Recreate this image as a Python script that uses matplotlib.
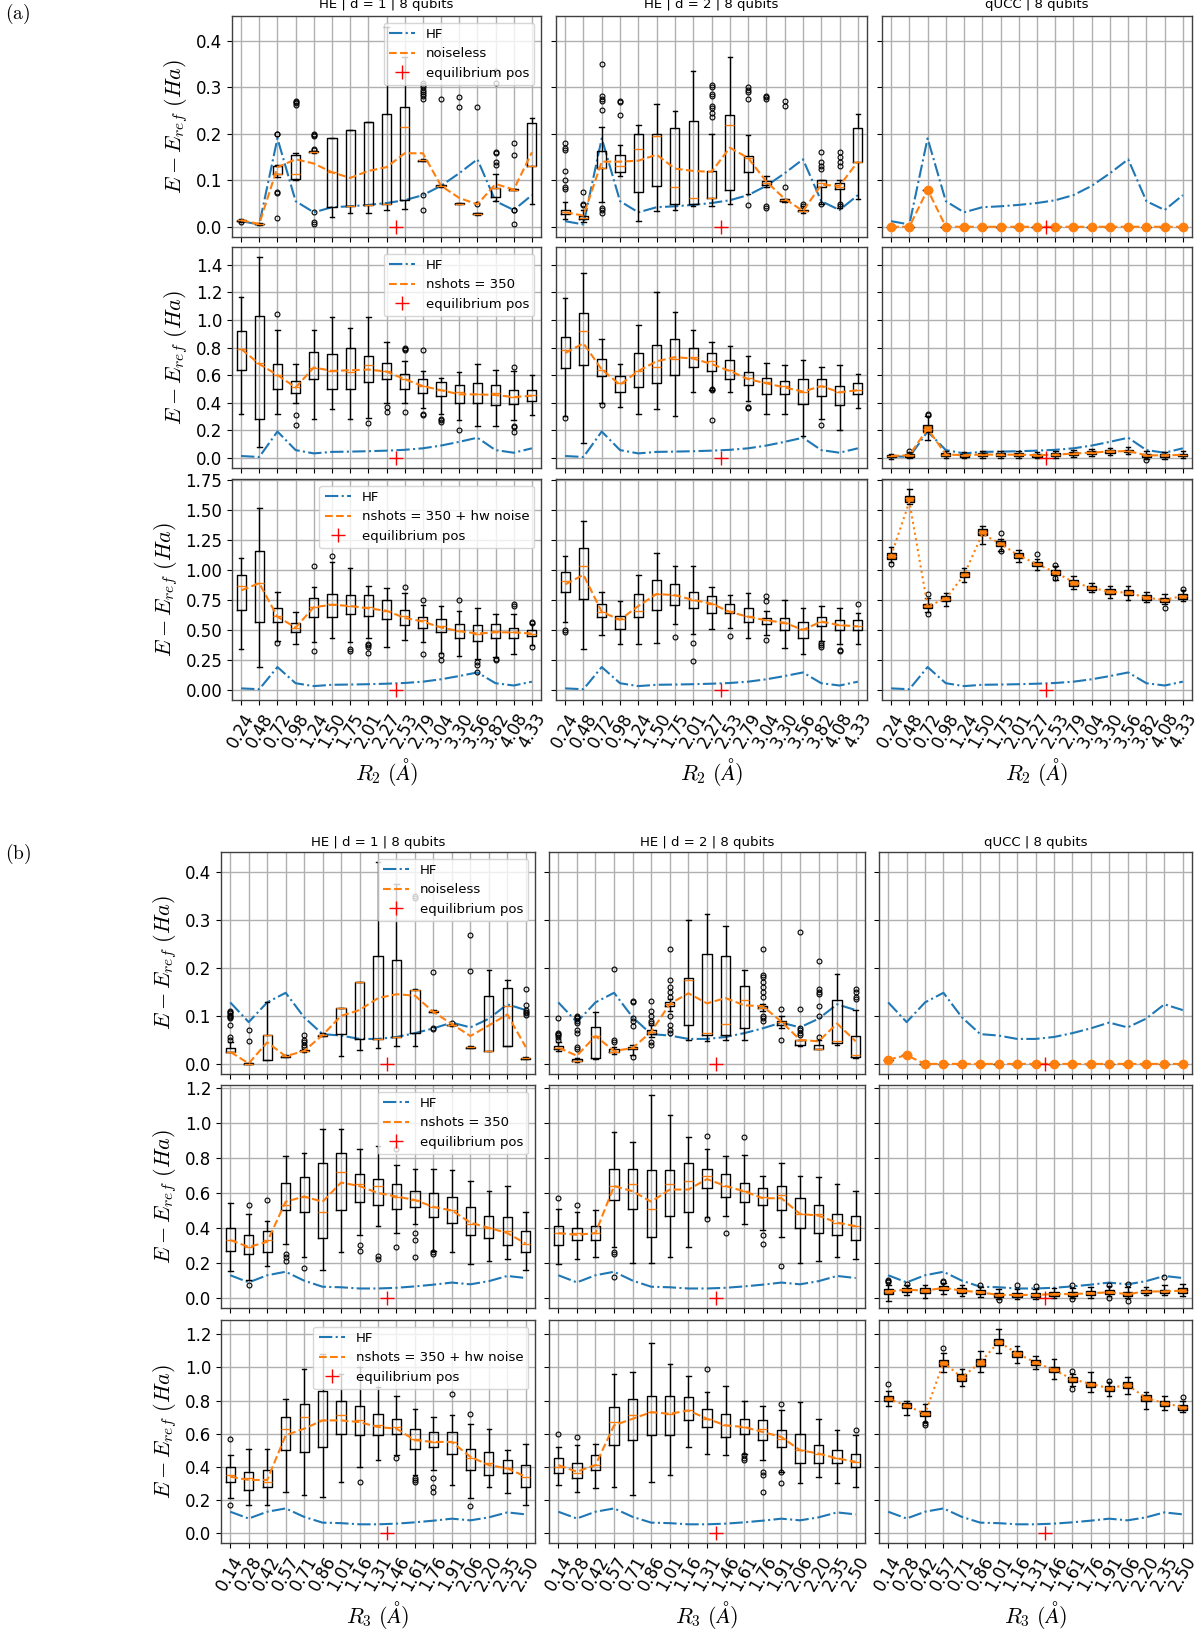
import numpy as np
import matplotlib
matplotlib.use("Agg")
import matplotlib.pyplot as plt
from matplotlib.lines import Line2D

plt.rcParams['mathtext.fontset'] = 'cm'
plt.rcParams['font.family'] = ['DejaVu Sans']

# ---------------------------------------------------------------- axes values
R2_labels = ['0.24', '0.48', '0.72', '0.98', '1.24', '1.50', '1.75', '2.01', '2.27',
             '2.53', '2.79', '3.04', '3.30', '3.56', '3.82', '4.08', '4.33']
R3_labels = ['0.14', '0.28', '0.42', '0.57', '0.71', '0.86', '1.01', '1.16', '1.31',
             '1.46', '1.61', '1.76', '1.91', '2.06', '2.20', '2.35', '2.50']
R2_eq = 2.40
R3_eq = 1.385

# Hartree-Fock reference curves
HF_a = [0.012, 0.005, 0.190, 0.055, 0.031, 0.042, 0.044, 0.047, 0.051, 0.057,
        0.068, 0.088, 0.115, 0.145, 0.055, 0.036, 0.068]
HF_b = [0.128, 0.087, 0.128, 0.148, 0.097, 0.062, 0.059, 0.052, 0.052, 0.056,
        0.064, 0.074, 0.086, 0.076, 0.094, 0.124, 0.112]

# ---------------------------------------------------------------- (a) HE d=1, noiseless
a11_q1 = [0.012, 0.005, 0.113, 0.102, 0.160, 0.043, 0.044, 0.046, 0.050, 0.057, 0.142, 0.087, 0.049, 0.027, 0.063, 0.079, 0.130]
a11_med = [0.014, 0.006, 0.113, 0.114, 0.161, 0.117, 0.044, 0.046, 0.050, 0.215, 0.143, 0.088, 0.050, 0.028, 0.083, 0.080, 0.131]
a11_q3 = [0.015, 0.007, 0.131, 0.155, 0.162, 0.190, 0.208, 0.225, 0.243, 0.258, 0.144, 0.089, 0.051, 0.029, 0.083, 0.081, 0.222]
a11_lo = [0.010, 0.004, 0.108, 0.100, 0.159, 0.020, 0.030, 0.029, 0.035, 0.038, 0.141, 0.086, 0.048, 0.026, 0.055, 0.078, 0.048]
a11_hi = [0.016, 0.008, 0.133, 0.158, 0.163, 0.190, 0.208, 0.225, 0.430, 0.365, 0.145, 0.090, 0.052, 0.030, 0.113, 0.082, 0.233]
a11_mean = [0.014, 0.006, 0.128, 0.145, 0.136, 0.117, 0.105, 0.120, 0.128, 0.158, 0.158, 0.088, 0.062, 0.048, 0.092, 0.080, 0.160]
a11_out = [[0.010], [], [0.2, 0.199, 0.075, 0.072, 0.018], [0.27, 0.268, 0.265, 0.262],
           [0.2, 0.198, 0.196, 0.167, 0.165, 0.031, 0.01, 0.005], [], [], [], [], [],
           [0.31, 0.305, 0.3, 0.295, 0.29, 0.285, 0.28, 0.275, 0.068, 0.036], [0.274],
           [0.278, 0.257], [0.258, 0.05], [0.16, 0.158, 0.14, 0.132, 0.335, 0.31],
           [0.18, 0.155, 0.037, 0.035, 0.007], []]

# (a) HE d=2, noiseless
a12_q1 = [0.027, 0.017, 0.126, 0.117, 0.075, 0.088, 0.050, 0.050, 0.062, 0.078, 0.117, 0.090, 0.056, 0.033, 0.085, 0.081, 0.140]
a12_med = [0.031, 0.019, 0.126, 0.130, 0.167, 0.195, 0.086, 0.062, 0.062, 0.218, 0.148, 0.095, 0.057, 0.034, 0.093, 0.085, 0.140]
a12_q3 = [0.037, 0.024, 0.163, 0.155, 0.200, 0.200, 0.212, 0.228, 0.120, 0.240, 0.153, 0.098, 0.059, 0.036, 0.100, 0.094, 0.212]
a12_lo = [0.016, 0.010, 0.054, 0.110, 0.012, 0.034, 0.035, 0.045, 0.045, 0.050, 0.070, 0.085, 0.054, 0.030, 0.050, 0.040, 0.060]
a12_hi = [0.054, 0.036, 0.215, 0.175, 0.218, 0.263, 0.248, 0.335, 0.200, 0.365, 0.197, 0.110, 0.060, 0.045, 0.100, 0.100, 0.242]
a12_mean = [0.031, 0.024, 0.140, 0.140, 0.142, 0.155, 0.125, 0.120, 0.118, 0.170, 0.148, 0.097, 0.060, 0.034, 0.090, 0.088, 0.140]
a12_out = [[0.18, 0.17, 0.165, 0.12, 0.1, 0.085, 0.082], [0.075, 0.048, 0.046],
           [0.35, 0.28, 0.275, 0.27, 0.25, 0.04, 0.035, 0.03], [0.27, 0.268, 0.24], [], [], [], [],
           [0.305, 0.3, 0.285, 0.28, 0.26, 0.255, 0.245, 0.235], [],
           [0.3, 0.295, 0.29, 0.275, 0.046], [0.28, 0.278, 0.275, 0.045, 0.04], [0.27, 0.26, 0.085],
           [0.048, 0.044], [0.16, 0.14, 0.13, 0.125, 0.05], [0.16, 0.15, 0.14, 0.13, 0.05, 0.045], []]

# (a) qUCC, noiseless
a13_val = [0.0, 0.0, 0.080, 0.0, 0.0, 0.0, 0.0, 0.0, 0.0, 0.0, 0.0, 0.0, 0.0, 0.0, 0.0, 0.0, 0.0]

# (a) HE d=1, nshots = 350
a21_q1 = [0.64, 0.28, 0.50, 0.47, 0.57, 0.50, 0.50, 0.55, 0.57, 0.50, 0.47, 0.45, 0.40, 0.40, 0.38, 0.39, 0.41]
a21_med = [0.79, 0.69, 0.60, 0.51, 0.65, 0.63, 0.62, 0.67, 0.63, 0.57, 0.52, 0.49, 0.48, 0.46, 0.47, 0.44, 0.455]
a21_q3 = [0.92, 1.03, 0.68, 0.56, 0.77, 0.75, 0.80, 0.74, 0.69, 0.61, 0.57, 0.55, 0.53, 0.54, 0.53, 0.49, 0.49]
a21_lo = [0.32, 0.08, 0.32, 0.40, 0.28, 0.35, 0.28, 0.29, 0.40, 0.40, 0.36, 0.32, 0.27, 0.23, 0.23, 0.27, 0.31]
a21_hi = [1.17, 1.46, 0.93, 0.68, 0.93, 1.02, 0.94, 1.02, 0.84, 0.70, 0.63, 0.58, 0.62, 0.68, 0.64, 0.63, 0.60]
a21_mean = [0.79, 0.68, 0.60, 0.51, 0.655, 0.63, 0.635, 0.64, 0.625, 0.57, 0.52, 0.49, 0.46, 0.46, 0.455, 0.44, 0.45]
a21_out = [[], [], [1.04], [0.31, 0.24], [], [], [], [0.25], [0.37, 0.33], [0.8, 0.79, 0.78, 0.33],
           [0.78, 0.32, 0.31], [0.28, 0.27, 0.26], [0.2], [], [], [0.66, 0.23, 0.22, 0.19], []]

# (a) HE d=2, nshots = 350
a22_q1 = [0.65, 0.67, 0.59, 0.48, 0.51, 0.54, 0.60, 0.66, 0.63, 0.57, 0.53, 0.46, 0.46, 0.39, 0.45, 0.38, 0.46]
a22_med = [0.78, 0.92, 0.64, 0.54, 0.63, 0.66, 0.72, 0.73, 0.70, 0.64, 0.58, 0.55, 0.52, 0.48, 0.52, 0.48, 0.49]
a22_q3 = [0.88, 1.05, 0.72, 0.59, 0.76, 0.82, 0.86, 0.80, 0.76, 0.71, 0.62, 0.58, 0.56, 0.57, 0.57, 0.52, 0.54]
a22_lo = [0.30, 0.11, 0.40, 0.37, 0.32, 0.35, 0.30, 0.48, 0.49, 0.48, 0.41, 0.32, 0.32, 0.16, 0.28, 0.20, 0.36]
a22_hi = [1.16, 1.34, 0.86, 0.68, 0.96, 1.20, 1.06, 0.93, 0.84, 0.81, 0.74, 0.69, 0.67, 0.71, 0.66, 0.67, 0.61]
a22_mean = [0.76, 0.83, 0.64, 0.53, 0.63, 0.70, 0.73, 0.72, 0.68, 0.63, 0.57, 0.54, 0.51, 0.48, 0.52, 0.475, 0.49]
a22_out = [[0.29], [], [0.38], [], [], [], [], [], [0.50, 0.49, 0.27], [], [0.37, 0.36], [], [], [],
           [0.24], [], []]

# (a) qUCC, nshots = 350
a23_q1 = [0.002, 0.007, 0.190, 0.012, 0.008, 0.012, 0.012, 0.012, 0.008, 0.012, 0.020, 0.027, 0.036, 0.039, 0.007, 0.007, 0.010]
a23_med = [0.012, 0.017, 0.210, 0.022, 0.017, 0.022, 0.022, 0.022, 0.017, 0.022, 0.030, 0.037, 0.046, 0.049, 0.017, 0.017, 0.020]
a23_q3 = [0.020, 0.026, 0.237, 0.032, 0.026, 0.032, 0.032, 0.032, 0.026, 0.032, 0.040, 0.047, 0.056, 0.059, 0.026, 0.026, 0.029]
a23_lo = [-0.010, -0.005, 0.130, 0.000, -0.005, 0.000, 0.000, 0.000, -0.005, 0.000, 0.005, 0.012, 0.022, 0.025, -0.010, -0.010, -0.005]
a23_hi = [0.030, 0.040, 0.300, 0.045, 0.040, 0.045, 0.045, 0.045, 0.040, 0.045, 0.055, 0.062, 0.072, 0.075, 0.045, 0.040, 0.050]
a23_mean = [0.012, 0.018, 0.210, 0.023, 0.018, 0.022, 0.022, 0.022, 0.018, 0.022, 0.030, 0.037, 0.045, 0.048, 0.017, 0.017, 0.020]
a23_out = [[], [0.05], [0.32, 0.31], [], [], [], [], [], [], [], [], [], [], [], [-0.02], [], []]

# (a) HE d=1, nshots = 350 + hw noise
a31_q1 = [0.67, 0.57, 0.57, 0.48, 0.61, 0.61, 0.63, 0.62, 0.59, 0.54, 0.52, 0.48, 0.43, 0.41, 0.43, 0.43, 0.45]
a31_med = [0.87, 0.89, 0.62, 0.52, 0.69, 0.72, 0.70, 0.69, 0.66, 0.62, 0.58, 0.53, 0.49, 0.47, 0.49, 0.48, 0.47]
a31_q3 = [0.96, 1.16, 0.68, 0.56, 0.77, 0.80, 0.79, 0.79, 0.75, 0.67, 0.61, 0.59, 0.55, 0.54, 0.55, 0.52, 0.50]
a31_lo = [0.34, 0.19, 0.41, 0.38, 0.40, 0.43, 0.40, 0.43, 0.36, 0.42, 0.40, 0.31, 0.28, 0.26, 0.27, 0.30, 0.37]
a31_hi = [1.10, 1.52, 0.82, 0.65, 0.86, 1.07, 1.02, 0.87, 0.85, 0.81, 0.71, 0.70, 0.66, 0.68, 0.63, 0.63, 0.55]
a31_mean = [0.83, 0.89, 0.61, 0.52, 0.69, 0.71, 0.70, 0.68, 0.66, 0.60, 0.57, 0.52, 0.49, 0.47, 0.48, 0.48, 0.47]
a31_out = [[], [], [0.39], [], [1.03, 0.32], [1.12], [0.34, 0.32], [0.38, 0.37, 0.36, 0.31], [],
           [0.86], [0.75, 0.30], [0.29, 0.25], [0.75], [0.23, 0.21, 0.15], [0.26, 0.25],
           [0.72, 0.70], [0.57, 0.56, 0.36]]

# (a) HE d=2, nshots = 350 + hw noise
a32_q1 = [0.82, 0.76, 0.61, 0.51, 0.61, 0.67, 0.71, 0.68, 0.64, 0.64, 0.57, 0.55, 0.50, 0.43, 0.53, 0.50, 0.50]
a32_med = [0.91, 1.03, 0.65, 0.59, 0.66, 0.80, 0.79, 0.75, 0.72, 0.66, 0.62, 0.58, 0.56, 0.51, 0.57, 0.54, 0.53]
a32_q3 = [0.98, 1.18, 0.72, 0.62, 0.80, 0.92, 0.88, 0.82, 0.78, 0.72, 0.68, 0.60, 0.60, 0.57, 0.61, 0.58, 0.58]
a32_lo = [0.57, 0.34, 0.46, 0.38, 0.38, 0.39, 0.55, 0.47, 0.51, 0.52, 0.43, 0.46, 0.35, 0.30, 0.41, 0.38, 0.38]
a32_hi = [1.12, 1.41, 0.82, 0.74, 0.96, 1.14, 1.03, 1.03, 0.86, 0.79, 0.81, 0.66, 0.75, 0.68, 0.70, 0.68, 0.64]
a32_mean = [0.88, 0.96, 0.65, 0.585, 0.70, 0.80, 0.79, 0.75, 0.72, 0.65, 0.61, 0.58, 0.56, 0.50, 0.57, 0.54, 0.53]
a32_out = [[0.50, 0.48], [], [], [], [], [], [0.44], [0.39, 0.24], [], [0.45], [], [0.78, 0.74, 0.42],
           [], [], [0.39, 0.37, 0.36], [0.33, 0.32], [0.72]]

# (a) qUCC, nshots = 350 + hw noise
a33_q1 = [1.09, 1.57, 0.68, 0.74, 0.94, 1.29, 1.20, 1.10, 1.03, 0.96, 0.87, 0.83, 0.80, 0.79, 0.75, 0.73, 0.76]
a33_med = [1.12, 1.60, 0.70, 0.76, 0.96, 1.32, 1.22, 1.12, 1.05, 0.98, 0.90, 0.85, 0.82, 0.81, 0.77, 0.75, 0.785]
a33_q3 = [1.14, 1.62, 0.72, 0.78, 0.98, 1.34, 1.24, 1.14, 1.07, 1.00, 0.92, 0.87, 0.84, 0.83, 0.79, 0.77, 0.80]
a33_lo = [1.07, 1.55, 0.65, 0.70, 0.90, 1.22, 1.16, 1.07, 1.00, 0.92, 0.84, 0.82, 0.77, 0.75, 0.73, 0.72, 0.74]
a33_hi = [1.19, 1.68, 0.77, 0.81, 1.02, 1.37, 1.26, 1.17, 1.09, 1.03, 0.95, 0.89, 0.87, 0.87, 0.82, 0.80, 0.83]
a33_mean = [1.12, 1.57, 0.70, 0.76, 0.96, 1.30, 1.22, 1.12, 1.05, 0.98, 0.90, 0.85, 0.82, 0.81, 0.77, 0.75, 0.785]
a33_out = [[1.05], [], [0.80, 0.63], [], [], [], [1.31, 1.16], [], [1.13], [1.04, 0.93], [], [], [],
           [], [], [0.68], [0.84]]

# ---------------------------------------------------------------- (b) HE d=1, noiseless
b11_q1 = [0.025, 0.000, 0.009, 0.015, 0.026, 0.059, 0.062, 0.052, 0.052, 0.056, 0.064, 0.109, 0.080, 0.034, 0.026, 0.038, 0.011]
b11_med = [0.025, 0.000, 0.060, 0.016, 0.027, 0.060, 0.117, 0.171, 0.052, 0.056, 0.153, 0.110, 0.081, 0.035, 0.026, 0.121, 0.012]
b11_q3 = [0.033, 0.001, 0.060, 0.017, 0.028, 0.061, 0.117, 0.171, 0.225, 0.217, 0.154, 0.111, 0.082, 0.036, 0.141, 0.158, 0.013]
b11_lo = [0.024, 0.000, 0.009, 0.014, 0.025, 0.058, 0.017, 0.028, 0.033, 0.038, 0.037, 0.108, 0.079, 0.033, 0.026, 0.038, 0.010]
b11_hi = [0.045, 0.002, 0.128, 0.019, 0.030, 0.064, 0.117, 0.171, 0.420, 0.375, 0.156, 0.112, 0.084, 0.037, 0.196, 0.175, 0.014]
b11_mean = [0.025, 0.001, 0.045, 0.016, 0.027, 0.060, 0.100, 0.112, 0.137, 0.145, 0.142, 0.108, 0.083, 0.058, 0.080, 0.103, 0.035]
b11_out = [[0.11, 0.108, 0.105, 0.102, 0.1, 0.098, 0.095, 0.08, 0.055, 0.05], [0.07, 0.047], [], [],
           [0.06, 0.05, 0.045, 0.04, 0.035], [], [], [], [], [], [0.35, 0.345], [0.192, 0.075, 0.072],
           [0.085], [0.268, 0.194], [], [], [0.155, 0.122, 0.112, 0.108, 0.105, 0.102]]

# (b) HE d=2, noiseless
b12_q1 = [0.030, 0.006, 0.012, 0.024, 0.030, 0.063, 0.120, 0.081, 0.060, 0.061, 0.074, 0.116, 0.082, 0.039, 0.031, 0.044, 0.014]
b12_med = [0.034, 0.007, 0.058, 0.025, 0.033, 0.067, 0.124, 0.175, 0.064, 0.084, 0.134, 0.117, 0.087, 0.049, 0.031, 0.047, 0.018]
b12_q3 = [0.038, 0.010, 0.076, 0.030, 0.035, 0.070, 0.128, 0.178, 0.229, 0.224, 0.162, 0.120, 0.090, 0.049, 0.040, 0.133, 0.059]
b12_lo = [0.027, 0.005, 0.010, 0.020, 0.018, 0.055, 0.110, 0.050, 0.047, 0.050, 0.049, 0.110, 0.075, 0.037, 0.030, 0.040, 0.013]
b12_hi = [0.045, 0.012, 0.108, 0.035, 0.040, 0.080, 0.135, 0.300, 0.313, 0.287, 0.196, 0.125, 0.100, 0.050, 0.050, 0.187, 0.112]
b12_mean = [0.034, 0.017, 0.058, 0.027, 0.033, 0.067, 0.125, 0.147, 0.126, 0.137, 0.122, 0.120, 0.088, 0.050, 0.047, 0.084, 0.047]
b12_out = [[0.095, 0.065, 0.063, 0.06, 0.055, 0.05], [0.1, 0.098, 0.095, 0.09, 0.085, 0.07, 0.065, 0.035, 0.03],
           [], [0.198, 0.05, 0.045], [0.13, 0.128, 0.095, 0.09, 0.078, 0.015],
           [0.13, 0.11, 0.1, 0.09, 0.085, 0.045, 0.04], [0.24, 0.175, 0.16, 0.15, 0.14, 0.1, 0.08, 0.07, 0.065],
           [], [], [], [], [0.24, 0.185, 0.18, 0.17, 0.16, 0.15, 0.14, 0.1, 0.095, 0.09], [0.115, 0.05],
           [0.275, 0.115, 0.075, 0.07, 0.065, 0.06], [0.215, 0.155, 0.15, 0.145, 0.12, 0.1, 0.055], [],
           [0.155, 0.15, 0.14, 0.135]]

# (b) qUCC, noiseless
b13_val = [0.009, 0.018, 0.0, 0.0, 0.0, 0.0, 0.0, 0.0, 0.0, 0.0, 0.0, 0.0, 0.0, 0.0, 0.0, 0.0, 0.0]

# (b) HE d=1, nshots = 350
b21_q1 = [0.27, 0.25, 0.26, 0.50, 0.49, 0.34, 0.50, 0.55, 0.53, 0.51, 0.52, 0.46, 0.43, 0.36, 0.34, 0.30, 0.26]
b21_med = [0.33, 0.29, 0.33, 0.53, 0.58, 0.49, 0.72, 0.65, 0.64, 0.58, 0.56, 0.52, 0.50, 0.42, 0.40, 0.38, 0.31]
b21_q3 = [0.40, 0.36, 0.38, 0.66, 0.69, 0.77, 0.83, 0.71, 0.68, 0.65, 0.61, 0.60, 0.58, 0.52, 0.47, 0.46, 0.38]
b21_lo = [0.15, 0.10, 0.18, 0.31, 0.23, 0.16, 0.26, 0.36, 0.41, 0.37, 0.42, 0.27, 0.26, 0.19, 0.21, 0.22, 0.16]
b21_hi = [0.54, 0.48, 0.44, 0.81, 0.83, 0.97, 0.97, 0.85, 0.87, 0.76, 0.74, 0.74, 0.73, 0.67, 0.61, 0.64, 0.49]
b21_mean = [0.33, 0.29, 0.32, 0.55, 0.58, 0.55, 0.66, 0.64, 0.60, 0.58, 0.56, 0.52, 0.50, 0.43, 0.40, 0.37, 0.31]
b21_out = [[], [0.53, 0.07], [0.56], [0.25, 0.23, 0.21], [0.17], [], [], [0.30, 0.27], [0.24, 0.22],
           [0.29, 0.85], [0.37, 0.33, 0.23], [0.26, 0.25], [], [], [], [], []]

# (b) HE d=2, nshots = 350
b22_q1 = [0.30, 0.33, 0.33, 0.56, 0.51, 0.35, 0.47, 0.49, 0.63, 0.58, 0.55, 0.53, 0.50, 0.40, 0.37, 0.36, 0.33]
b22_med = [0.37, 0.37, 0.37, 0.64, 0.65, 0.51, 0.65, 0.67, 0.70, 0.64, 0.61, 0.58, 0.59, 0.48, 0.48, 0.43, 0.41]
b22_q3 = [0.41, 0.40, 0.41, 0.74, 0.74, 0.73, 0.73, 0.77, 0.74, 0.71, 0.66, 0.63, 0.64, 0.57, 0.53, 0.48, 0.47]
b22_lo = [0.19, 0.22, 0.23, 0.29, 0.20, 0.20, 0.23, 0.29, 0.46, 0.47, 0.42, 0.39, 0.35, 0.20, 0.21, 0.23, 0.22]
b22_hi = [0.51, 0.49, 0.50, 0.95, 0.89, 1.16, 1.05, 0.92, 0.85, 0.81, 0.82, 0.70, 0.77, 0.70, 0.69, 0.65, 0.61]
b22_mean = [0.37, 0.36, 0.37, 0.64, 0.61, 0.55, 0.62, 0.62, 0.68, 0.64, 0.61, 0.57, 0.57, 0.48, 0.47, 0.43, 0.41]
b22_out = [[0.57], [0.53], [], [0.26, 0.25, 0.12], [], [], [], [], [0.45, 0.93], [0.37], [0.92],
           [0.36, 0.31], [0.18], [], [], [], []]

# (b) qUCC, nshots = 350
b23_q1 = [0.022, 0.033, 0.028, 0.043, 0.028, 0.018, 0.004, 0.004, 0.004, 0.009, 0.009, 0.014, 0.019, 0.009, 0.024, 0.024, 0.028]
b23_med = [0.035, 0.045, 0.040, 0.055, 0.040, 0.030, 0.015, 0.015, 0.015, 0.020, 0.020, 0.025, 0.030, 0.020, 0.035, 0.035, 0.040]
b23_q3 = [0.048, 0.057, 0.052, 0.067, 0.052, 0.042, 0.026, 0.026, 0.026, 0.031, 0.031, 0.036, 0.041, 0.031, 0.046, 0.046, 0.052]
b23_lo = [-0.020, 0.015, 0.000, 0.020, 0.010, 0.005, -0.010, -0.010, -0.010, -0.005, -0.005, 0.000, 0.010, -0.005, 0.015, 0.015, 0.010]
b23_hi = [0.070, 0.070, 0.070, 0.085, 0.070, 0.060, 0.050, 0.050, 0.050, 0.055, 0.055, 0.060, 0.065, 0.060, 0.060, 0.070, 0.080]
b23_mean = [0.035, 0.045, 0.040, 0.055, 0.040, 0.030, 0.015, 0.015, 0.015, 0.020, 0.020, 0.025, 0.030, 0.020, 0.035, 0.035, 0.040]
b23_out = [[0.1, 0.095, 0.09], [0.08], [], [0.095, 0.09], [], [0.07], [-0.015], [0.07], [0.065], [],
           [0.07, -0.01], [], [0.07, 0.0], [0.075, -0.02], [], [0.12], []]

# (b) HE d=1, nshots = 350 + hw noise
b31_q1 = [0.31, 0.26, 0.28, 0.50, 0.49, 0.52, 0.60, 0.59, 0.59, 0.60, 0.51, 0.52, 0.48, 0.38, 0.35, 0.36, 0.28]
b31_med = [0.35, 0.33, 0.31, 0.63, 0.70, 0.68, 0.71, 0.68, 0.65, 0.64, 0.57, 0.55, 0.55, 0.45, 0.42, 0.39, 0.34]
b31_q3 = [0.40, 0.37, 0.38, 0.70, 0.78, 0.86, 0.80, 0.77, 0.72, 0.69, 0.63, 0.61, 0.61, 0.51, 0.49, 0.44, 0.41]
b31_lo = [0.21, 0.17, 0.17, 0.25, 0.23, 0.22, 0.31, 0.40, 0.44, 0.47, 0.35, 0.38, 0.29, 0.21, 0.28, 0.24, 0.17]
b31_hi = [0.47, 0.51, 0.51, 0.81, 0.99, 1.08, 0.96, 1.00, 0.88, 0.83, 0.75, 0.70, 0.71, 0.66, 0.63, 0.50, 0.54]
b31_mean = [0.34, 0.32, 0.32, 0.59, 0.63, 0.68, 0.68, 0.67, 0.64, 0.63, 0.56, 0.55, 0.55, 0.46, 0.41, 0.39, 0.34]
b31_out = [[0.57, 0.17], [], [], [], [], [], [], [0.31], [], [0.45], [0.33, 0.32, 0.31],
           [0.33, 0.28, 0.25], [0.84], [0.72, 0.16], [], [], []]

# (b) HE d=2, nshots = 350 + hw noise
b32_q1 = [0.36, 0.33, 0.38, 0.53, 0.56, 0.59, 0.59, 0.68, 0.64, 0.58, 0.60, 0.56, 0.52, 0.42, 0.42, 0.42, 0.40]
b32_med = [0.40, 0.36, 0.41, 0.67, 0.71, 0.73, 0.72, 0.74, 0.69, 0.65, 0.64, 0.63, 0.57, 0.50, 0.48, 0.45, 0.43]
b32_q3 = [0.45, 0.42, 0.47, 0.76, 0.81, 0.83, 0.83, 0.82, 0.75, 0.72, 0.69, 0.68, 0.62, 0.60, 0.53, 0.50, 0.48]
b32_lo = [0.29, 0.25, 0.27, 0.28, 0.23, 0.31, 0.35, 0.52, 0.48, 0.47, 0.48, 0.44, 0.37, 0.30, 0.34, 0.30, 0.28]
b32_hi = [0.52, 0.53, 0.54, 0.96, 0.97, 1.15, 1.02, 0.95, 0.85, 0.89, 0.80, 0.77, 0.74, 0.79, 0.69, 0.62, 0.59]
b32_mean = [0.41, 0.37, 0.41, 0.65, 0.69, 0.73, 0.72, 0.74, 0.69, 0.65, 0.64, 0.61, 0.58, 0.50, 0.48, 0.45, 0.43]
b32_out = [[0.60], [0.58], [], [], [], [], [], [], [0.99], [], [0.47, 0.45, 0.44], [0.37, 0.35, 0.25],
           [0.78, 0.37, 0.30], [], [], [], [0.62]]

# (b) qUCC, nshots = 350 + hw noise
b33_q1 = [0.795, 0.755, 0.705, 1.010, 0.920, 1.010, 1.135, 1.065, 1.015, 0.970, 0.915, 0.885, 0.860, 0.875, 0.795, 0.770, 0.745]
b33_med = [0.810, 0.770, 0.720, 1.030, 0.940, 1.030, 1.155, 1.085, 1.030, 0.985, 0.930, 0.900, 0.875, 0.895, 0.815, 0.785, 0.760]
b33_q3 = [0.825, 0.785, 0.735, 1.045, 0.960, 1.050, 1.170, 1.100, 1.045, 1.000, 0.945, 0.915, 0.890, 0.910, 0.835, 0.800, 0.775]
b33_lo = [0.770, 0.710, 0.670, 0.975, 0.890, 0.970, 1.090, 1.030, 0.990, 0.930, 0.890, 0.850, 0.830, 0.840, 0.750, 0.740, 0.730]
b33_hi = [0.860, 0.800, 0.780, 1.085, 0.990, 1.100, 1.230, 1.130, 1.070, 1.050, 0.960, 0.970, 0.910, 0.940, 0.850, 0.830, 0.800]
b33_mean = [0.810, 0.770, 0.720, 1.030, 0.940, 1.030, 1.155, 1.085, 1.030, 0.985, 0.930, 0.900, 0.875, 0.895, 0.815, 0.785, 0.760]
b33_out = [[0.90], [], [0.665, 0.655], [1.115], [], [], [], [], [], [], [0.98, 0.87], [], [0.92], [],
           [], [], [0.82]]

# ---------------------------------------------------------------- layout helpers
W, H = 1197, 1632
fig = plt.figure(figsize=(W / 100, H / 100), dpi=100)


def rect(l, t, r, b):
    return [l / W, 1 - b / H, (r - l) / W, (b - t) / H]


rows_a = [(16, 237), (247, 468), (479, 700)]
rows_b = [(852, 1074), (1085, 1308), (1320, 1543)]
cols_a = [(232, 541), (556, 867), (882, 1192)]
cols_b = [(221, 535), (549, 865), (879, 1192)]

titles = ['HE | d = 1 | 8 qubits', 'HE | d = 2 | 8 qubits', 'qUCC | 8 qubits']
row_labels = ['noiseless', 'nshots = 350', 'nshots = 350 + hw noise']
ylims_a = [(-0.022, 0.453), (-0.075, 1.53), (-0.085, 1.76)]
ylims_b = [(-0.021, 0.441), (-0.06, 1.22), (-0.061, 1.287)]
ytick_steps_a = [0.1, 0.2, 0.25]
ytick_steps_b = [0.1, 0.2, 0.2]

positions = np.arange(1, 18)

flierprops = dict(marker='o', markersize=3.5, markerfacecolor='none',
                  markeredgecolor='black', markeredgewidth=0.8)


def box_panel(ax, q1, med, q3, lo, hi, out, filled):
    stats = [dict(q1=a, med=m, q3=b, whislo=l, whishi=h, fliers=f)
             for a, m, b, l, h, f in zip(q1, med, q3, lo, hi, out)]
    if filled:
        ax.bxp(stats, positions=positions, widths=0.5, patch_artist=True,
               boxprops=dict(facecolor='C1', edgecolor='black', linewidth=1.0),
               medianprops=dict(color='C1', linewidth=1.0),
               whiskerprops=dict(linewidth=1.0), capprops=dict(linewidth=1.0),
               flierprops=flierprops)
    else:
        ax.bxp(stats, positions=positions, widths=0.5,
               boxprops=dict(color='black', linewidth=1.0),
               medianprops=dict(color='C1', linewidth=1.0),
               whiskerprops=dict(linewidth=1.0), capprops=dict(linewidth=1.0),
               flierprops=flierprops)


def style_axes(ax, ylim, step, show_y, show_x, xlabels):
    ax.set_xlim(0.5, 17.5)
    ax.set_ylim(*ylim)
    ax.yaxis.set_major_locator(matplotlib.ticker.MultipleLocator(step))
    ax.set_xticks(positions)
    ax.grid(True, color='#b0b0b0', linewidth=1.0)
    ax.set_axisbelow(True)
    ax.tick_params(labelsize=12)
    for s in ax.spines.values():
        s.set_color('0.25')
        s.set_linewidth(1.0)
    if show_x:
        ax.set_xticklabels(xlabels, rotation=60)
    else:
        ax.set_xticklabels([])
    if not show_y:
        ax.set_yticklabels([])


def draw_group(rows, cols, ylims, steps, R_labels, R_eq, HF, xlabel, letter_y,
               panels, title_pad):
    R_vals = [float(v) for v in R_labels]
    eq_x = np.interp(R_eq, R_vals, positions)
    for i, (t, b) in enumerate(rows):
        for j, (l, r) in enumerate(cols):
            ax = fig.add_axes(rect(l, t, r, b))
            kind, data = panels[i][j]
            ax.plot(positions, HF, '-.', color='C0', linewidth=1.5, label='HF')
            if kind == 'points':
                ax.bxp([dict(q1=v, med=v, q3=v, whislo=v, whishi=v, fliers=[]) for v in data],
                       positions=positions, widths=0.5,
                       boxprops=dict(color='black', linewidth=1.0),
                       medianprops=dict(color='C1', linewidth=1.0))
                ax.plot(positions, data, '--', color='C1', linewidth=1.5,
                        marker='o', markersize=6, label=row_labels[i])
            else:
                q1, med, q3, lo, hi, mean, out = data
                filled = (j == 2)
                box_panel(ax, q1, med, q3, lo, hi, out, filled)
                ls = ':' if (j == 2 and i == 2) else '--'
                ax.plot(positions, mean, ls, color='C1', linewidth=1.5, label=row_labels[i])
            ax.plot([eq_x], [0.0], '+', color='red', markersize=10, markeredgewidth=1.0,
                    label='equilibrium pos')
            style_axes(ax, ylims[i], steps[i], j == 0, i == 2, R_labels)
            if i == 0:
                ax.set_title(titles[j], fontsize=9.5, pad=title_pad)
            if j == 0:
                ax.set_ylabel(r'$E - E_{ref}\ (Ha)$', fontsize=16)
                ax.legend(loc='upper right', fontsize=9.5)
            if i == 2:
                ax.set_xlabel(xlabel, fontsize=16)
    fig.text(18 / W, 1 - letter_y / H, r'$\mathrm{(%s)}$' % ('a' if letter_y < 400 else 'b'),
             fontsize=14, ha='center', va='center')


panels_a = [
    [('box', (a11_q1, a11_med, a11_q3, a11_lo, a11_hi, a11_mean, a11_out)),
     ('box', (a12_q1, a12_med, a12_q3, a12_lo, a12_hi, a12_mean, a12_out)),
     ('points', a13_val)],
    [('box', (a21_q1, a21_med, a21_q3, a21_lo, a21_hi, a21_mean, a21_out)),
     ('box', (a22_q1, a22_med, a22_q3, a22_lo, a22_hi, a22_mean, a22_out)),
     ('box', (a23_q1, a23_med, a23_q3, a23_lo, a23_hi, a23_mean, a23_out))],
    [('box', (a31_q1, a31_med, a31_q3, a31_lo, a31_hi, a31_mean, a31_out)),
     ('box', (a32_q1, a32_med, a32_q3, a32_lo, a32_hi, a32_mean, a32_out)),
     ('box', (a33_q1, a33_med, a33_q3, a33_lo, a33_hi, a33_mean, a33_out))],
]
panels_b = [
    [('box', (b11_q1, b11_med, b11_q3, b11_lo, b11_hi, b11_mean, b11_out)),
     ('box', (b12_q1, b12_med, b12_q3, b12_lo, b12_hi, b12_mean, b12_out)),
     ('points', b13_val)],
    [('box', (b21_q1, b21_med, b21_q3, b21_lo, b21_hi, b21_mean, b21_out)),
     ('box', (b22_q1, b22_med, b22_q3, b22_lo, b22_hi, b22_mean, b22_out)),
     ('box', (b23_q1, b23_med, b23_q3, b23_lo, b23_hi, b23_mean, b23_out))],
    [('box', (b31_q1, b31_med, b31_q3, b31_lo, b31_hi, b31_mean, b31_out)),
     ('box', (b32_q1, b32_med, b32_q3, b32_lo, b32_hi, b32_mean, b32_out)),
     ('box', (b33_q1, b33_med, b33_q3, b33_lo, b33_hi, b33_mean, b33_out))],
]

draw_group(rows_a, cols_a, ylims_a, ytick_steps_a, R2_labels, R2_eq, HF_a,
           r'$R_2\ (\AA)$', 14, panels_a, 6)
draw_group(rows_b, cols_b, ylims_b, ytick_steps_b, R3_labels, R3_eq, HF_b,
           r'$R_3\ (\AA)$', 854, panels_b, 4)

fig.savefig('out.png', dpi=100)
